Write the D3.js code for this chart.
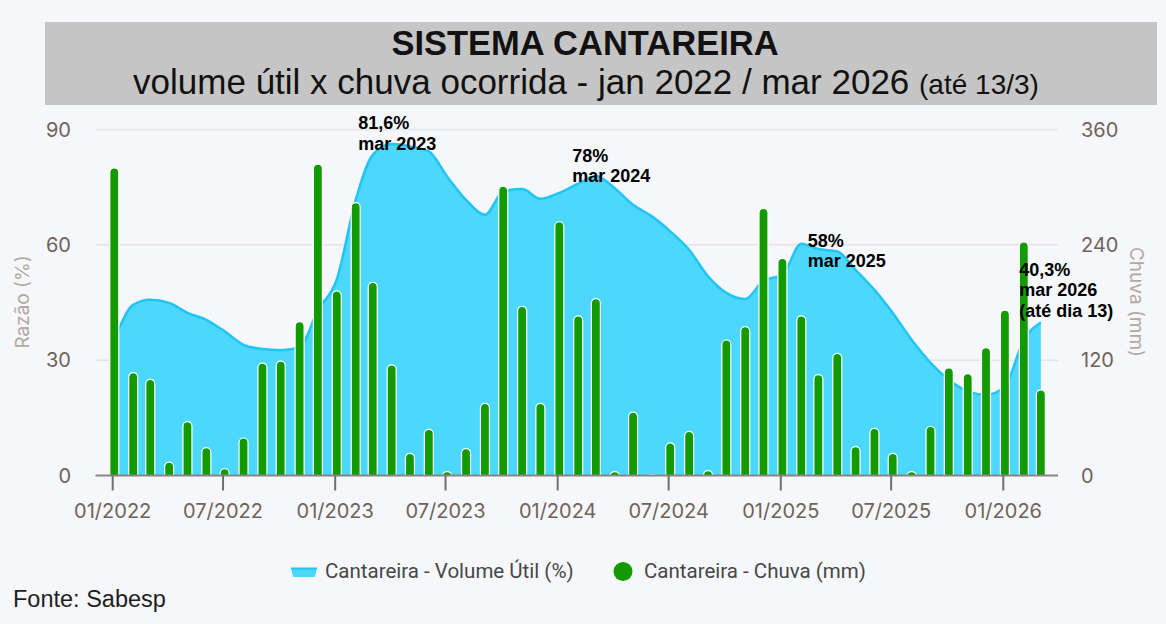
<!DOCTYPE html>
<html>
<head>
<meta charset="utf-8">
<script src="https://cdn.jsdelivr.net/npm/d3@7"></script>
<style>
  body { margin: 0; background: #f6f7fb; }
  svg { display: block; }
</style>
</head>
<body>
<svg id="chart" width="1166" height="624"></svg>
<script>
// monthly data, jan 2022 .. mar 2026
const months = d3.timeMonths(new Date(2022, 0, 1), new Date(2026, 3, 1))
const volume = [35, 44.4, 45.7, 44.9, 42.3, 40.5, 37.5, 34, 32.9, 32.6, 33.4, 43,
  51, 71.7, 83.4, 86.2, 85.6, 84.3, 77.8, 71.7, 67.8, 73.9, 74.5, 72,
  73.5, 75.9, 77.9, 74.7, 70.4, 67.4, 63.5, 58.7, 51.8, 47.5, 45.9, 50.7,
  52.2, 60.3, 58.9, 58.3, 53.5, 48.3, 42.3, 35.3, 29.3, 24.9, 21.9, 21,
  23.2, 35.3, 39.8]
const rain = [320, 107, 100, 14, 56, 29, 7, 39, 117, 119, 160, 324,
  192, 284, 201, 115, 23, 48, 4, 28, 75, 301, 176, 75,
  264, 166, 184, 4, 66, 1, 34, 46, 5, 141, 155, 278,
  226, 166, 105, 127, 30, 49, 23, 4, 51, 112, 106, 133,
  172, 243, 89]
const leftTicks = [0, 30, 60, 90]
const rightTicks = [0, 120, 240, 360]
const notes = [
  { month: '2023-03', lines: ['81,6%', 'mar 2023'] },
  { month: '2024-03', lines: ['78%', 'mar 2024'] },
  { month: '2025-03', lines: ['58%', 'mar 2025'] },
  { month: '2026-03', lines: ['40,3%', 'mar 2026', '(até dia 13)'] }
]
// label position relative to the point it describes
const noteOffset = [[-13, -25.5], [-22, -14.5], [-9, -2.5], [-20, -46.5]]

const svg = d3.select('#chart')
svg.append('rect').attr('width', 1166).attr('height', 624).attr('fill', '#f6f7fb')

const plot = { left: 95.5, right: 1058, top: 129.5, bottom: 475.5 }
const x = d3.scaleTime()
  .domain([new Date(2022, 0, 1), new Date(2026, 0, 1)])
  .range([112.7, 1003.3])
const yL = d3.scaleLinear().domain([0, 90]).range([plot.bottom, plot.top])
const yR = d3.scaleLinear().domain([0, 360]).range([plot.bottom, plot.top])

// title box
svg.append('rect')
  .attr('x', 45).attr('y', 22).attr('width', 1112).attr('height', 83)
  .attr('fill', '#c5c5c5')
svg.append('text')
  .attr('x', 585).attr('y', 55)
  .attr('text-anchor', 'middle')
  .style('font', 'bold 34.5px "Liberation Sans", Arial, sans-serif')
  .attr('fill', '#111')
  .text('SISTEMA CANTAREIRA')
let sub = svg.append('text')
  .attr('x', 586).attr('y', 94)
  .attr('text-anchor', 'middle')
  .style('font', '35px "Liberation Sans", Arial, sans-serif')
  .attr('fill', '#111')
sub.append('tspan').text('volume útil x chuva ocorrida - jan 2022 / mar 2026 ')
sub.append('tspan').style('font-size', '28px').text('(até 13/3)')

// grid
svg.append('g')
  .selectAll('line')
  .data(leftTicks.filter(d => d > 0))
  .join('line')
  .attr('x1', plot.left).attr('x2', plot.right)
  .attr('y1', d => yL(d)).attr('y2', d => yL(d))
  .attr('stroke', '#e3e3e6').attr('stroke-width', 1.5)

// marks (bars / area sit a little right of the tick)
const marks = svg.append('g').attr('transform', 'translate(1.6,0)')
const series = months.map((m, i) => ({ date: m, vol: volume[i], rain: rain[i] }))

const area = d3.area()
  .x(d => x(d.date))
  .y0(yL(0))
  .y1(d => yL(d.vol))
  .curve(d3.curveMonotoneX)
const line = d3.line()
  .x(d => x(d.date))
  .y(d => yL(d.vol))
  .curve(d3.curveMonotoneX)
marks.append('path').datum(series).attr('d', area).attr('fill', '#4cd8fd')
marks.append('path').datum(series).attr('d', line)
  .attr('fill', 'none').attr('stroke', '#22c4f3').attr('stroke-width', 2.5)

const bw = 9
function barPath(d) {
  let cx = x(d.date), top = yR(d.rain), base = yR(0)
  let r = Math.min(bw / 2, (base - top))
  return `M${cx - bw / 2},${base} L${cx - bw / 2},${top + r} A${bw / 2},${r} 0 0 1 ${cx + bw / 2},${top + r} L${cx + bw / 2},${base} Z`
}
marks.append('g')
  .selectAll('path')
  .data(series)
  .join('path')
  .attr('d', barPath)
  .attr('fill', '#129a00')
  .attr('stroke', '#ffffff').attr('stroke-width', 1.2)

// x axis
const xAxis = svg.append('g')
xAxis.append('line')
  .attr('x1', plot.left).attr('x2', plot.right)
  .attr('y1', plot.bottom).attr('y2', plot.bottom)
  .attr('stroke', '#858585').attr('stroke-width', 2)
const xTicks = d3.timeMonths(new Date(2022, 0, 1), new Date(2026, 1, 1), 6)
xAxis.selectAll('.tick')
  .data(xTicks)
  .join('line')
  .attr('x1', d => x(d)).attr('x2', d => x(d))
  .attr('y1', plot.bottom).attr('y2', plot.bottom + 15)
  .attr('stroke', '#6f6f6f').attr('stroke-width', 2)
xAxis.selectAll('text')
  .data(xTicks)
  .join('text')
  .attr('x', d => x(d)).attr('y', 518)
  .attr('text-anchor', 'middle')
  .style('font', '20px Inter, sans-serif')
  .attr('fill', '#6e625a')
  .text(d3.timeFormat('%m/%Y'))

// y axes
svg.append('g').selectAll('text')
  .data(leftTicks)
  .join('text')
  .attr('x', 71).attr('y', d => yL(d))
  .attr('dy', '0.35em')
  .attr('text-anchor', 'end')
  .style('font', '20px Inter, sans-serif')
  .attr('fill', '#6e625a')
  .text(d => d)
svg.append('g').selectAll('text')
  .data(rightTicks)
  .join('text')
  .attr('x', 1081).attr('y', d => yR(d))
  .attr('dy', '0.35em')
  .style('font', '20px Inter, sans-serif')
  .attr('fill', '#6e625a')
  .text(d => d)
svg.append('text')
  .attr('transform', 'translate(22,302) rotate(-90)')
  .attr('text-anchor', 'middle').attr('dy', '0.35em')
  .style('font', '19px Inter, sans-serif')
  .attr('fill', '#b3a89f')
  .text('Razão (%)')
svg.append('text')
  .attr('transform', 'translate(1137,302) rotate(90)')
  .attr('text-anchor', 'middle').attr('dy', '0.35em')
  .style('font', '19px Inter, sans-serif')
  .attr('fill', '#b3a89f')
  .text('Chuva (mm)')

// annotations
notes.forEach((n, i) => {
  let d = d3.timeParse('%Y-%m')(n.month)
  let v = volume[d3.timeMonth.count(months[0], d)]
  let tx = x(d) + noteOffset[i][0]
  let t = svg.append('text')
    .attr('x', tx)
    .attr('y', yL(v) + noteOffset[i][1])
    .style('font', 'bold 18px "Liberation Sans", Arial, sans-serif')
    .attr('fill', '#000')
  n.lines.forEach((l, j) => {
    t.append('tspan').attr('x', tx).attr('dy', j ? 20.5 : 0).text(l)
  })
})

// legend
const lg = svg.append('g')
lg.append('path')
  .attr('d', 'M291,568 L317,568 L315,577 L293,577 Z')
  .attr('fill', '#4cd8fd')
lg.append('line')
  .attr('x1', 291).attr('x2', 317).attr('y1', 568.5).attr('y2', 568.5)
  .attr('stroke', '#22c4f3').attr('stroke-width', 2)
lg.append('text')
  .attr('x', 325).attr('y', 578)
  .style('font', '20.5px Roboto, sans-serif')
  .attr('fill', '#474747')
  .text('Cantareira - Volume Útil (%)')
lg.append('circle')
  .attr('cx', 623).attr('cy', 571.5).attr('r', 9.5)
  .attr('fill', '#129a00')
lg.append('text')
  .attr('x', 644).attr('y', 578)
  .style('font', '20.5px Roboto, sans-serif')
  .attr('fill', '#474747')
  .text('Cantareira - Chuva (mm)')

svg.append('text')
  .attr('x', 13).attr('y', 607)
  .style('font', '23.5px "Liberation Sans", Arial, sans-serif')
  .attr('fill', '#1e1e1e')
  .text('Fonte: Sabesp')
</script>
</body>
</html>
